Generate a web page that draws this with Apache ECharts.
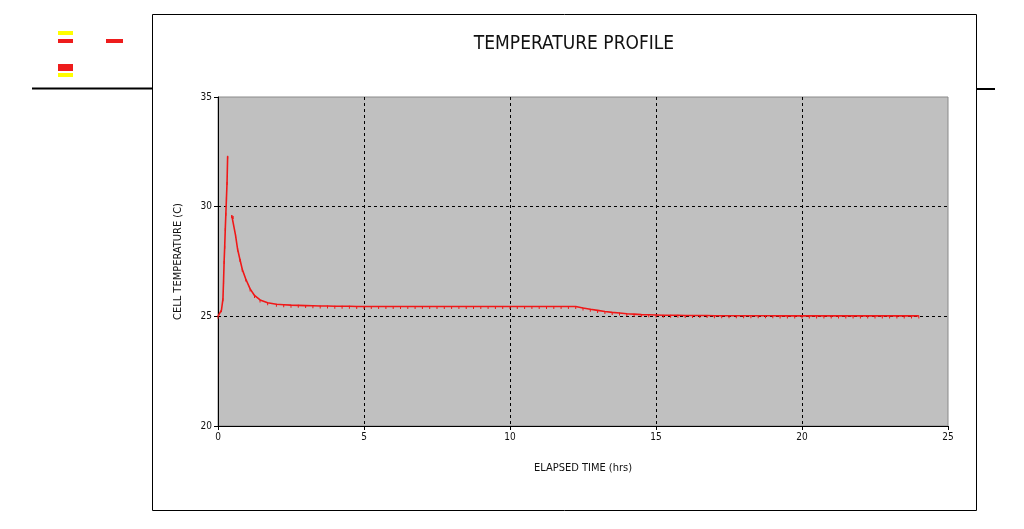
<!DOCTYPE html>
<html>
<head>
<meta charset="utf-8">
<script src="https://cdn.jsdelivr.net/npm/echarts@6/dist/echarts.min.js"></script>
<style>
html,body{margin:0;padding:0;background:#fff;}
#chart{width:1024px;height:529px;}
</style>
</head>
<body>
<div id="chart"></div>
<script>
// ---- Data ----
var chartTitle = 'TEMPERATURE PROFILE';
var xAxisTitle = 'ELAPSED TIME (hrs)';
var yAxisTitle = 'CELL TEMPERATURE (C)';
var xTicks = [0, 5, 10, 15, 20, 25];
var yTicks = [20, 25, 30, 35];

// Heating segment
var riseTime = [0.00, 0.12, 0.17, 0.19, 0.21, 0.23, 0.25, 0.27, 0.29, 0.31, 0.33];
var riseTemp = [25.0, 25.3, 25.8, 26.6, 27.5, 28.2, 29.0, 29.7, 30.4, 31.1, 32.3];

// Cooling / holding segment
var coolTime = [0.47, 0.52, 0.60, 0.67, 0.75, 0.83, 0.95, 1.10, 1.25, 1.44, 1.70, 2.00, 2.25,
  2.50, 2.75, 3.00, 3.25, 3.50, 3.75, 4.00, 4.25, 4.50, 4.75, 5.00, 5.25, 5.50, 5.75,
  6.00, 6.25, 6.50, 6.75, 7.00, 7.25, 7.50, 7.75, 8.00, 8.25, 8.50, 8.75, 9.00, 9.25,
  9.50, 9.75, 10.00, 10.25, 10.50, 10.75, 11.00, 11.25, 11.50, 11.75, 12.00, 12.25,
  12.50, 12.75, 13.00, 13.25, 13.50, 13.75, 14.00, 14.25, 14.50, 14.75, 15.00,
  15.25, 15.50, 15.75, 16.00, 16.25, 16.50, 16.75, 17.00, 17.25, 17.50, 17.75,
  18.00, 18.25, 18.50, 18.75, 19.00, 19.25, 19.50, 19.75, 20.00, 20.25, 20.50,
  20.75, 21.00, 21.25, 21.50, 21.75, 22.00, 22.25, 22.50, 22.75, 23.00, 23.25,
  23.50, 23.75, 24.00];
var coolTemp = [29.6, 29.55, 28.7, 28.07, 27.6, 27.15, 26.7, 26.25, 25.95, 25.75, 25.62, 25.55, 25.53,
  25.51, 25.50, 25.49, 25.48, 25.47, 25.47, 25.46, 25.46, 25.46, 25.45, 25.45, 25.45, 25.45, 25.45,
  25.45, 25.45, 25.45, 25.45, 25.45, 25.45, 25.45, 25.45, 25.45, 25.45, 25.45, 25.45, 25.45, 25.45,
  25.45, 25.45, 25.45, 25.45, 25.45, 25.45, 25.45, 25.45, 25.45, 25.45, 25.45, 25.45,
  25.38, 25.32, 25.27, 25.22, 25.18, 25.15, 25.12, 25.10, 25.08, 25.07, 25.06,
  25.05, 25.05, 25.05, 25.04, 25.04, 25.04, 25.04, 25.03, 25.03, 25.03, 25.03,
  25.03, 25.03, 25.03, 25.03, 25.03, 25.02, 25.02, 25.02, 25.02, 25.02, 25.02,
  25.02, 25.02, 25.02, 25.02, 25.02, 25.02, 25.02, 25.02, 25.02, 25.02, 25.02,
  25.02, 25.02, 25.02];

function pairs(xs, ys) {
  var out = [];
  for (var i = 0; i < xs.length; i++) out.push([xs[i], ys[i]]);
  return out;
}

var narrow = "'Liberation Sans Narrow', 'DejaVu Sans Condensed', 'Liberation Sans', sans-serif";
var lineColor = '#f01818';

var chart = echarts.init(document.getElementById('chart'), null, {renderer: 'canvas'});

var seriesStyle = {
  type: 'line',
  smooth: false,
  symbol: 'rect',
  symbolSize: [1, 3],
  symbolOffset: [0, 1],
  showSymbol: true,
  itemStyle: {color: lineColor},
  lineStyle: {color: lineColor, width: 1.6},
  animation: false,
  z: 5
};

chart.setOption({
  animation: false,
  backgroundColor: '#ffffff',
  title: {
    text: chartTitle,
    left: 569,
    top: 30,
    textAlign: 'center',
    textStyle: {fontFamily: narrow, fontSize: 19, fontWeight: 'normal', color: '#111'}
  },
  graphic: [
    // chart frame
    {type: 'rect', shape: {x: 152.5, y: 14.5, width: 824, height: 496},
     style: {fill: null, stroke: '#000', lineWidth: 1}, z: 0},
    // spreadsheet remnants on the left
    {type: 'rect', shape: {x: 58, y: 31, width: 15, height: 4}, style: {fill: '#ffff00'}, z: 0},
    {type: 'rect', shape: {x: 58, y: 39, width: 15, height: 4}, style: {fill: '#ee1c1c'}, z: 0},
    {type: 'rect', shape: {x: 106, y: 39, width: 17, height: 4}, style: {fill: '#ee1c1c'}, z: 0},
    {type: 'rect', shape: {x: 58, y: 64, width: 15, height: 7}, style: {fill: '#ee1c1c'}, z: 0},
    {type: 'rect', shape: {x: 58, y: 73, width: 15, height: 4}, style: {fill: '#ffff00'}, z: 0},
    {type: 'line', shape: {x1: 32, y1: 88.5, x2: 152, y2: 88.5}, style: {stroke: '#000', lineWidth: 2}, z: 0},
    {type: 'line', shape: {x1: 977, y1: 89, x2: 995, y2: 89}, style: {stroke: '#000', lineWidth: 2}, z: 0}
  ],
  grid: {
    left: 218, right: 76, top: 97, bottom: 103,
    show: true,
    backgroundColor: '#c0c0c0',
    borderColor: '#8a8a8a',
    borderWidth: 1
  },
  xAxis: {
    type: 'value',
    min: 0, max: 25, interval: 5,
    name: xAxisTitle,
    nameLocation: 'middle',
    nameGap: 37,
    nameTextStyle: {fontFamily: narrow, fontSize: 11, color: '#111'},
    axisLine: {show: true, onZero: false, lineStyle: {color: '#000', width: 1}},
    axisTick: {show: true, length: 4, lineStyle: {color: '#000'}},
    axisLabel: {fontFamily: narrow, fontSize: 10, color: '#111', margin: 6},
    splitLine: {show: true, showMinLine: false, showMaxLine: false,
      lineStyle: {color: '#000', type: [3, 3], width: 1}}
  },
  yAxis: {
    type: 'value',
    min: 20, max: 35, interval: 5,
    name: yAxisTitle,
    nameLocation: 'middle',
    nameGap: 34,
    nameRotate: 90,
    nameTextStyle: {fontFamily: narrow, fontSize: 11, color: '#111'},
    axisLine: {show: true, onZero: false, lineStyle: {color: '#000', width: 1}},
    axisTick: {show: true, length: 4, lineStyle: {color: '#000'}},
    axisLabel: {fontFamily: narrow, fontSize: 10, color: '#111', margin: 6},
    splitLine: {show: true, showMinLine: false, showMaxLine: false,
      lineStyle: {color: '#000', type: [3, 3], width: 1}}
  },
  series: [
    Object.assign({name: 'heating', data: pairs(riseTime, riseTemp)}, seriesStyle),
    Object.assign({name: 'cooling', data: pairs(coolTime, coolTemp)}, seriesStyle)
  ]
});
</script>
</body>
</html>
